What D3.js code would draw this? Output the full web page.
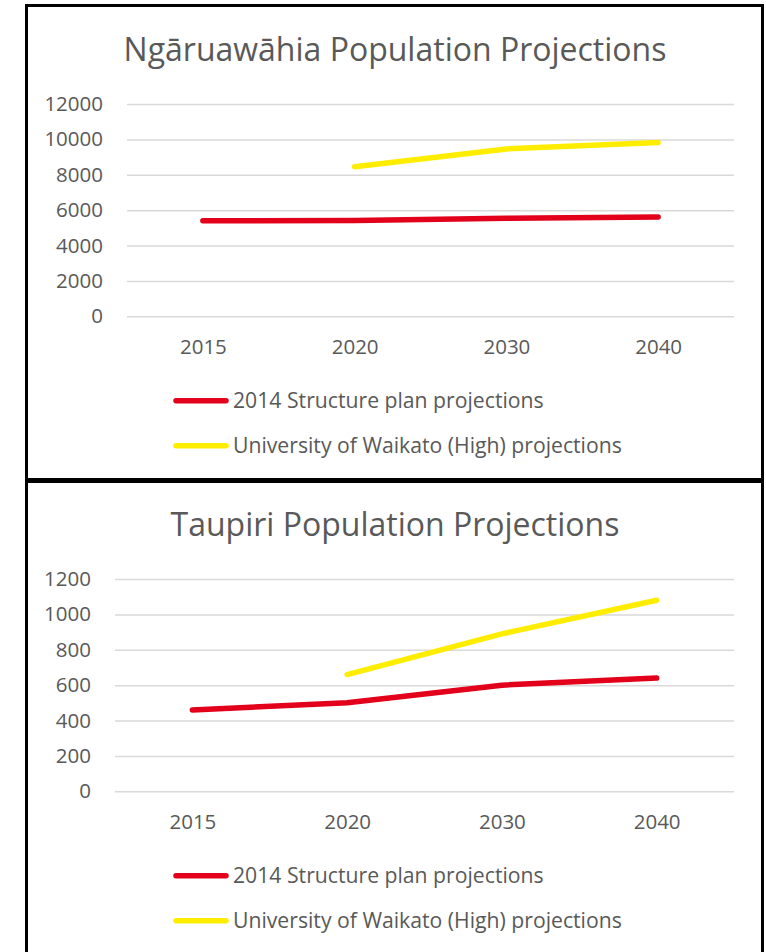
<!DOCTYPE html>
<html>
<head>
<meta charset="utf-8">
<script src="https://cdn.jsdelivr.net/npm/d3@7"></script>
<style>
  body { margin: 0; background: #fff; }
  svg { display: block; font-family: "Open Sans", sans-serif; }
</style>
</head>
<body>
<svg id="chart"></svg>
<script>
const years = ["2015", "2020", "2030", "2040"];
const seriesNames = ["2014 Structure plan projections", "University of Waikato (High) projections"];
const seriesColors = ["#e2001a", "#ffed00"];

// Ngāruawāhia
const ngaStructure = [5400, 5420, 5540, 5610];
const ngaWaikato = [null, 8450, 9460, 9830];
const ngaTicks = [0, 2000, 4000, 6000, 8000, 10000, 12000];

// Taupiri
const taupiriStructure = [460, 500, 600, 640];
const taupiriWaikato = [null, 660, 890, 1080];
const taupiriTicks = [0, 200, 400, 600, 800, 1000, 1200];

const width = 766, height = 952;
const svg = d3.select("#chart").attr("width", width).attr("height", height);

const textColor = "#595959";

function panel({ g, title, series, ticks, left, top }) {
  const right = 734;
  const plotTop = top + 104, plotBottom = top + 316.3;

  // chart title
  g.append("text")
    .attr("x", 395)
    .attr("y", top + 61)
    .attr("text-anchor", "middle")
    .attr("fill", textColor)
    .attr("font-size", 32)
    .text(title);

  const x = d3.scalePoint().domain(years).range([left, right]).padding(0.5);
  const y = d3.scaleLinear().domain([0, d3.max(ticks)]).range([plotBottom, plotTop]);

  // gridlines + y labels
  const yAxis = g.append("g")
    .attr("transform", `translate(${left} 0)`)
    .call(d3.axisLeft(y).tickValues(ticks).tickSize(-(right - left)).tickPadding(24).tickFormat(d3.format("d")));
  yAxis.select(".domain").remove();
  yAxis.selectAll("line").attr("stroke", "#d9d9d9").attr("stroke-width", 1.5);
  yAxis.selectAll("text")
    .attr("fill", textColor)
    .attr("font-size", 20.5)
    .attr("font-family", "Open Sans, sans-serif");

  // x labels
  const xAxis = g.append("g")
    .attr("transform", `translate(0 ${plotBottom})`)
    .call(d3.axisBottom(x).tickSize(0).tickPadding(23));
  xAxis.select(".domain").remove();
  xAxis.selectAll("text")
    .attr("fill", textColor)
    .attr("font-size", 20.5)
    .attr("font-family", "Open Sans, sans-serif");

  const line = d3.line()
    .defined((d) => d != null)
    .x((d, i) => x(years[i]))
    .y((d) => y(d));

  series.forEach((values, i) => {
    g.append("path")
      .attr("d", line(values))
      .attr("fill", "none")
      .attr("stroke", seriesColors[i])
      .attr("stroke-width", 5.5)
      .attr("stroke-linecap", "round")
      .attr("stroke-linejoin", "round");
  });

  // legend
  const legend = g.append("g");
  seriesNames.forEach((name, i) => {
    const ly = top + 400.7 + i * 45;
    legend.append("line")
      .attr("x1", 176).attr("x2", 226)
      .attr("y1", ly).attr("y2", ly)
      .attr("stroke", seriesColors[i])
      .attr("stroke-width", 5.5)
      .attr("stroke-linecap", "round");
    legend.append("text")
      .attr("x", 233)
      .attr("y", ly)
      .attr("dy", "0.35em")
      .attr("fill", textColor)
      .attr("font-size", 21.2)
      .text(name);
  });
}

// panel borders
svg.append("rect")
  .attr("x", 26.5).attr("y", 5.5)
  .attr("width", 736).attr("height", 474)
  .attr("fill", "none").attr("stroke", "#000").attr("stroke-width", 3);
svg.append("rect")
  .attr("x", 26.5).attr("y", 481.5)
  .attr("width", 736).attr("height", 500)
  .attr("fill", "none").attr("stroke", "#000").attr("stroke-width", 3);

panel({
  g: svg.append("g"),
  title: "Ngāruawāhia Population Projections",
  series: [ngaStructure, ngaWaikato],
  ticks: ngaTicks,
  left: 127,
  top: 0,
});

panel({
  g: svg.append("g"),
  title: "Taupiri Population Projections",
  series: [taupiriStructure, taupiriWaikato],
  ticks: taupiriTicks,
  left: 115,
  top: 475,
});
</script>
</body>
</html>
